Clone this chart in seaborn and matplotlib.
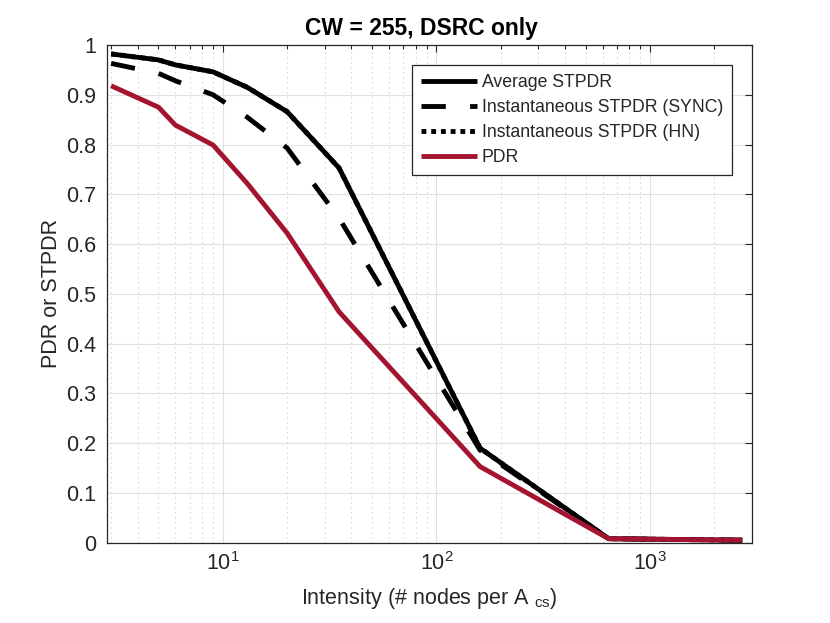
import numpy as np
import pandas as pd
import matplotlib
matplotlib.use("Agg")
import matplotlib.pyplot as plt
import seaborn as sns
from matplotlib.ticker import LogLocator, NullFormatter

# ---- data ----
intensity = [3, 5, 6, 9, 13, 20, 35, 160, 640, 2700]
avg_stpdr = [0.982, 0.970, 0.960, 0.946, 0.915, 0.866, 0.753, 0.190, 0.008, 0.005]
sync_stpdr = [0.963, 0.943, 0.928, 0.900, 0.855, 0.793, 0.652, 0.186, 0.008, 0.005]
hn_stpdr = [0.982, 0.970, 0.960, 0.946, 0.915, 0.866, 0.753, 0.190, 0.008, 0.005]
pdr = [0.918, 0.875, 0.839, 0.799, 0.722, 0.622, 0.464, 0.153, 0.008, 0.005]

series_names = ["Average STPDR", "Instantaneous STPDR (SYNC)",
                "Instantaneous STPDR (HN)", "PDR"]
ytick_values = [0, 0.1, 0.2, 0.3, 0.4, 0.5, 0.6, 0.7, 0.8, 0.9, 1]
ytick_labels = ["0", "0.1", "0.2", "0.3", "0.4", "0.5", "0.6", "0.7", "0.8", "0.9", "1"]
xtick_values = [10, 100, 1000]

sns.set_theme(style="white")
plt.rcParams["font.family"] = ["Liberation Sans", "DejaVu Sans"]
plt.rcParams["mathtext.fontset"] = "custom"
plt.rcParams["mathtext.rm"] = "Liberation Sans"
plt.rcParams["mathtext.it"] = "Liberation Sans:italic"
plt.rcParams["mathtext.bf"] = "Liberation Sans:bold"

fig, ax = plt.subplots(figsize=(8.3, 6.23), dpi=100)
fig.subplots_adjust(left=0.1293, right=0.906, bottom=0.1289, top=0.9278)

styles = [
    dict(color="black", linestyle="-"),
    dict(color="black", linestyle=(0, (5, 5))),
    dict(color="black", linestyle=(0, (1, 1))),
    dict(color="#A2142F", linestyle="-"),
]
values = [avg_stpdr, sync_stpdr, hn_stpdr, pdr]
for name, vals, st in zip(series_names, values, styles):
    df = pd.DataFrame({"x": intensity, "y": vals})
    sns.lineplot(data=df, x="x", y="y", ax=ax, label=name, linewidth=3.5,
                 color=st["color"], linestyle=st["linestyle"],
                 solid_capstyle="butt", dash_capstyle="butt")

ax.set_xscale("log")
ax.set_xlim(2.88, 3000)
ax.set_ylim(0, 1)
ax.set_xticks(xtick_values)
ax.xaxis.set_minor_locator(LogLocator(base=10, subs=np.arange(2, 10)))
ax.xaxis.set_minor_formatter(NullFormatter())
ax.set_yticks(ytick_values, ytick_labels)

ax.set_axisbelow(True)
ax.grid(which="major", color="#e0e0e0", linewidth=0.8, linestyle="-")
ax.grid(which="minor", axis="x", color="#c8c8c8", linewidth=0.8, linestyle=(0, (1, 3.5)))

ax.tick_params(which="both", direction="in", top=True, right=True,
               colors="#262626", labelsize=15.5)
ax.tick_params(which="major", length=5, width=0.8)
ax.tick_params(which="minor", length=3, width=0.8)
ax.tick_params(axis="x", which="major", pad=7)
ax.tick_params(axis="y", which="major", pad=8)
for sp in ax.spines.values():
    sp.set_color("#262626")
    sp.set_linewidth(0.9)

ax.set_xlabel(r"Intensity (# nodes per A $_{\mathrm{cs}}$)", fontsize=15.5,
              color="#262626", labelpad=8)
ax.set_ylabel("PDR or STPDR", fontsize=15.5, color="#262626", labelpad=3)
ax.set_title("CW = 255, DSRC only", fontsize=16.5, fontweight="bold",
             color="black", pad=7, x=0.488)

leg = ax.legend(loc="upper right", bbox_to_anchor=(0.969, 0.96), borderaxespad=0,
                frameon=True, fancybox=False, framealpha=1, edgecolor="#262626",
                handlelength=3.15, handletextpad=0.3, labelspacing=0.46,
                fontsize=12.7, borderpad=0.5)
leg.get_frame().set_linewidth(0.9)
for t in leg.get_texts():
    t.set_color("#262626")

fig.savefig("out.png", dpi=100)
